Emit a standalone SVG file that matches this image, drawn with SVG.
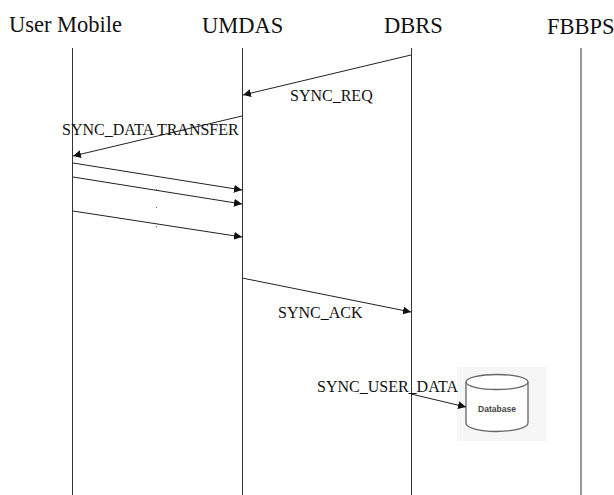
<svg xmlns="http://www.w3.org/2000/svg" width="614" height="495" viewBox="0 0 614 495">
<style>
.t{font-family:"Liberation Serif",serif;fill:#111}
.h{font-size:22.500px}
.l{font-size:16px}
.ll{stroke:#333;stroke-width:1;fill:none}
.c{stroke:#222;stroke-width:1;fill:none;marker-end:url(#a)}
</style>
<defs><marker id="a" markerUnits="userSpaceOnUse" markerWidth="9" markerHeight="8" refX="8" refY="4" orient="auto"><path d="M0 0L8 4L0 8Z" fill="#111"/></marker></defs>
<rect width="614" height="495" fill="#fff"/>
<g id="user-mobile"><text class="t h" x="9" y="32">User Mobile</text><line class="ll" x1="72.500" y1="48" x2="72.500" y2="495"/></g>
<g id="umdas"><text class="t h" x="202" y="33">UMDAS</text><line class="ll" x1="242.500" y1="48" x2="242.500" y2="495"/></g>
<g id="dbrs"><text class="t h" x="384" y="33">DBRS</text><line class="ll" x1="411.500" y1="48" x2="411.500" y2="495"/></g>
<g id="fbbps"><text class="t h" x="547" y="34">FBBPS</text><line class="ll" x1="581" y1="48" x2="581" y2="495" stroke="#555"/></g>
<g id="database">
<rect x="457" y="367" width="89" height="74" fill="#f6f6f6"/>
<path d="M466 382V423C466 428 480 431.500 496 431.500C513 431.500 528 428 528 423V382" fill="#fff" stroke="#666" stroke-width="1.300"/>
<ellipse cx="497" cy="382" rx="31" ry="7.500" fill="#fff" stroke="#666" stroke-width="1.300"/>
<text x="497" y="412" text-anchor="middle" font-family="Liberation Sans,sans-serif" font-size="8.500" font-weight="bold" fill="#444">Database</text>
</g>
<g id="connectors">
<line class="c" x1="411" y1="55" x2="243" y2="95"/>
<line class="c" x1="242" y1="116" x2="73" y2="156"/>
<line class="c" x1="73" y1="163" x2="242" y2="190"/>
<line class="c" x1="73" y1="177" x2="242" y2="204"/>
<line class="c" x1="73" y1="211" x2="242" y2="237"/>
<line class="c" x1="242" y1="278" x2="411" y2="312"/>
<line class="c" x1="411" y1="394" x2="466" y2="407"/>
</g>
<g id="labels">
<text class="t l" x="290" y="101">SYNC_REQ</text>
<text class="t l" x="62" y="135">SYNC_DATA TRANSFER</text>
<text class="t l" x="278" y="318">SYNC_ACK</text>
<text class="t l" x="317" y="392">SYNC_USER_DATA</text>
</g>
<g fill="#666"><rect x="156" y="189" width="1" height="1"/><rect x="156" y="207" width="1" height="1"/><rect x="156" y="226" width="1" height="1"/></g>
</svg>
